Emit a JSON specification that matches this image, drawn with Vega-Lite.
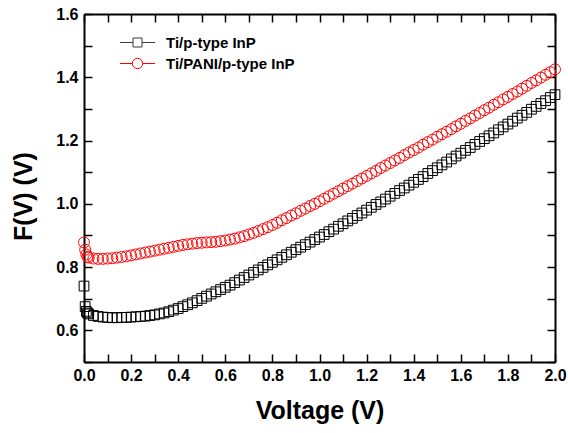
{
  "$schema": "https://vega.github.io/schema/vega-lite/v6.json",
  "width": 471,
  "height": 348,
  "autosize": "none",
  "padding": {"left": 84, "top": 14, "right": 13, "bottom": 71},
  "background": "white",
  "config": {"view": {"stroke": null}, "font": "Liberation Sans"},
  "data": {"values": [
    {"V":0,"Ti/p-type InP":0.74,"Ti/PANI/p-type InP":0.878},
    {"V":0.005,"Ti/p-type InP":0.675,"Ti/PANI/p-type InP":0.855},
    {"V":0.01,"Ti/p-type InP":0.66,"Ti/PANI/p-type InP":0.84},
    {"V":0.015,"Ti/p-type InP":0.655,"Ti/PANI/p-type InP":0.833},
    {"V":0.02,"Ti/p-type InP":0.652,"Ti/PANI/p-type InP":0.83},
    {"V":0.04,"Ti/p-type InP":0.647,"Ti/PANI/p-type InP":0.827},
    {"V":0.06,"Ti/p-type InP":0.644,"Ti/PANI/p-type InP":0.826},
    {"V":0.08,"Ti/p-type InP":0.642,"Ti/PANI/p-type InP":0.826},
    {"V":0.1,"Ti/p-type InP":0.641,"Ti/PANI/p-type InP":0.827},
    {"V":0.12,"Ti/p-type InP":0.64,"Ti/PANI/p-type InP":0.828},
    {"V":0.14,"Ti/p-type InP":0.64,"Ti/PANI/p-type InP":0.83},
    {"V":0.16,"Ti/p-type InP":0.641,"Ti/PANI/p-type InP":0.832},
    {"V":0.18,"Ti/p-type InP":0.641,"Ti/PANI/p-type InP":0.834},
    {"V":0.2,"Ti/p-type InP":0.642,"Ti/PANI/p-type InP":0.837},
    {"V":0.22,"Ti/p-type InP":0.643,"Ti/PANI/p-type InP":0.84},
    {"V":0.24,"Ti/p-type InP":0.644,"Ti/PANI/p-type InP":0.843},
    {"V":0.26,"Ti/p-type InP":0.645,"Ti/PANI/p-type InP":0.846},
    {"V":0.28,"Ti/p-type InP":0.647,"Ti/PANI/p-type InP":0.849},
    {"V":0.3,"Ti/p-type InP":0.649,"Ti/PANI/p-type InP":0.852},
    {"V":0.32,"Ti/p-type InP":0.652,"Ti/PANI/p-type InP":0.855},
    {"V":0.34,"Ti/p-type InP":0.655,"Ti/PANI/p-type InP":0.858},
    {"V":0.36,"Ti/p-type InP":0.659,"Ti/PANI/p-type InP":0.861},
    {"V":0.38,"Ti/p-type InP":0.664,"Ti/PANI/p-type InP":0.864},
    {"V":0.4,"Ti/p-type InP":0.669,"Ti/PANI/p-type InP":0.867},
    {"V":0.42,"Ti/p-type InP":0.675,"Ti/PANI/p-type InP":0.87},
    {"V":0.44,"Ti/p-type InP":0.681,"Ti/PANI/p-type InP":0.872},
    {"V":0.46,"Ti/p-type InP":0.687,"Ti/PANI/p-type InP":0.874},
    {"V":0.48,"Ti/p-type InP":0.694,"Ti/PANI/p-type InP":0.876},
    {"V":0.5,"Ti/p-type InP":0.701,"Ti/PANI/p-type InP":0.877},
    {"V":0.52,"Ti/p-type InP":0.708,"Ti/PANI/p-type InP":0.878},
    {"V":0.54,"Ti/p-type InP":0.715,"Ti/PANI/p-type InP":0.879},
    {"V":0.56,"Ti/p-type InP":0.722,"Ti/PANI/p-type InP":0.88},
    {"V":0.58,"Ti/p-type InP":0.729,"Ti/PANI/p-type InP":0.882},
    {"V":0.6,"Ti/p-type InP":0.736,"Ti/PANI/p-type InP":0.884},
    {"V":0.62,"Ti/p-type InP":0.743,"Ti/PANI/p-type InP":0.887},
    {"V":0.64,"Ti/p-type InP":0.751,"Ti/PANI/p-type InP":0.89},
    {"V":0.66,"Ti/p-type InP":0.759,"Ti/PANI/p-type InP":0.894},
    {"V":0.68,"Ti/p-type InP":0.767,"Ti/PANI/p-type InP":0.898},
    {"V":0.7,"Ti/p-type InP":0.775,"Ti/PANI/p-type InP":0.903},
    {"V":0.72,"Ti/p-type InP":0.783,"Ti/PANI/p-type InP":0.908},
    {"V":0.74,"Ti/p-type InP":0.791,"Ti/PANI/p-type InP":0.914},
    {"V":0.76,"Ti/p-type InP":0.799,"Ti/PANI/p-type InP":0.92},
    {"V":0.78,"Ti/p-type InP":0.807,"Ti/PANI/p-type InP":0.926},
    {"V":0.8,"Ti/p-type InP":0.815,"Ti/PANI/p-type InP":0.933},
    {"V":0.82,"Ti/p-type InP":0.823,"Ti/PANI/p-type InP":0.94},
    {"V":0.84,"Ti/p-type InP":0.831,"Ti/PANI/p-type InP":0.948},
    {"V":0.86,"Ti/p-type InP":0.839,"Ti/PANI/p-type InP":0.955},
    {"V":0.88,"Ti/p-type InP":0.847,"Ti/PANI/p-type InP":0.963},
    {"V":0.9,"Ti/p-type InP":0.855,"Ti/PANI/p-type InP":0.97},
    {"V":0.92,"Ti/p-type InP":0.863,"Ti/PANI/p-type InP":0.978},
    {"V":0.94,"Ti/p-type InP":0.871,"Ti/PANI/p-type InP":0.985},
    {"V":0.96,"Ti/p-type InP":0.879,"Ti/PANI/p-type InP":0.993},
    {"V":0.98,"Ti/p-type InP":0.887,"Ti/PANI/p-type InP":1.0},
    {"V":1.0,"Ti/p-type InP":0.895,"Ti/PANI/p-type InP":1.008},
    {"V":1.02,"Ti/p-type InP":0.903,"Ti/PANI/p-type InP":1.016},
    {"V":1.04,"Ti/p-type InP":0.912,"Ti/PANI/p-type InP":1.024},
    {"V":1.06,"Ti/p-type InP":0.92,"Ti/PANI/p-type InP":1.032},
    {"V":1.08,"Ti/p-type InP":0.929,"Ti/PANI/p-type InP":1.04},
    {"V":1.1,"Ti/p-type InP":0.937,"Ti/PANI/p-type InP":1.048},
    {"V":1.12,"Ti/p-type InP":0.946,"Ti/PANI/p-type InP":1.056},
    {"V":1.14,"Ti/p-type InP":0.954,"Ti/PANI/p-type InP":1.064},
    {"V":1.16,"Ti/p-type InP":0.963,"Ti/PANI/p-type InP":1.072},
    {"V":1.18,"Ti/p-type InP":0.971,"Ti/PANI/p-type InP":1.08},
    {"V":1.2,"Ti/p-type InP":0.98,"Ti/PANI/p-type InP":1.088},
    {"V":1.22,"Ti/p-type InP":0.989,"Ti/PANI/p-type InP":1.096},
    {"V":1.24,"Ti/p-type InP":0.998,"Ti/PANI/p-type InP":1.104},
    {"V":1.26,"Ti/p-type InP":1.006,"Ti/PANI/p-type InP":1.113},
    {"V":1.28,"Ti/p-type InP":1.015,"Ti/PANI/p-type InP":1.121},
    {"V":1.3,"Ti/p-type InP":1.024,"Ti/PANI/p-type InP":1.129},
    {"V":1.32,"Ti/p-type InP":1.033,"Ti/PANI/p-type InP":1.137},
    {"V":1.34,"Ti/p-type InP":1.042,"Ti/PANI/p-type InP":1.145},
    {"V":1.36,"Ti/p-type InP":1.05,"Ti/PANI/p-type InP":1.154},
    {"V":1.38,"Ti/p-type InP":1.059,"Ti/PANI/p-type InP":1.162},
    {"V":1.4,"Ti/p-type InP":1.068,"Ti/PANI/p-type InP":1.17},
    {"V":1.42,"Ti/p-type InP":1.077,"Ti/PANI/p-type InP":1.178},
    {"V":1.44,"Ti/p-type InP":1.086,"Ti/PANI/p-type InP":1.187},
    {"V":1.46,"Ti/p-type InP":1.096,"Ti/PANI/p-type InP":1.195},
    {"V":1.48,"Ti/p-type InP":1.105,"Ti/PANI/p-type InP":1.203},
    {"V":1.5,"Ti/p-type InP":1.114,"Ti/PANI/p-type InP":1.212},
    {"V":1.52,"Ti/p-type InP":1.123,"Ti/PANI/p-type InP":1.22},
    {"V":1.54,"Ti/p-type InP":1.132,"Ti/PANI/p-type InP":1.228},
    {"V":1.56,"Ti/p-type InP":1.142,"Ti/PANI/p-type InP":1.236},
    {"V":1.58,"Ti/p-type InP":1.151,"Ti/PANI/p-type InP":1.245},
    {"V":1.6,"Ti/p-type InP":1.16,"Ti/PANI/p-type InP":1.253},
    {"V":1.62,"Ti/p-type InP":1.169,"Ti/PANI/p-type InP":1.262},
    {"V":1.64,"Ti/p-type InP":1.178,"Ti/PANI/p-type InP":1.27},
    {"V":1.66,"Ti/p-type InP":1.188,"Ti/PANI/p-type InP":1.279},
    {"V":1.68,"Ti/p-type InP":1.197,"Ti/PANI/p-type InP":1.287},
    {"V":1.7,"Ti/p-type InP":1.206,"Ti/PANI/p-type InP":1.296},
    {"V":1.72,"Ti/p-type InP":1.215,"Ti/PANI/p-type InP":1.304},
    {"V":1.74,"Ti/p-type InP":1.224,"Ti/PANI/p-type InP":1.313},
    {"V":1.76,"Ti/p-type InP":1.234,"Ti/PANI/p-type InP":1.321},
    {"V":1.78,"Ti/p-type InP":1.243,"Ti/PANI/p-type InP":1.33},
    {"V":1.8,"Ti/p-type InP":1.252,"Ti/PANI/p-type InP":1.338},
    {"V":1.82,"Ti/p-type InP":1.261,"Ti/PANI/p-type InP":1.347},
    {"V":1.84,"Ti/p-type InP":1.271,"Ti/PANI/p-type InP":1.355},
    {"V":1.86,"Ti/p-type InP":1.28,"Ti/PANI/p-type InP":1.364},
    {"V":1.88,"Ti/p-type InP":1.289,"Ti/PANI/p-type InP":1.373},
    {"V":1.9,"Ti/p-type InP":1.299,"Ti/PANI/p-type InP":1.382},
    {"V":1.92,"Ti/p-type InP":1.308,"Ti/PANI/p-type InP":1.39},
    {"V":1.94,"Ti/p-type InP":1.317,"Ti/PANI/p-type InP":1.399},
    {"V":1.96,"Ti/p-type InP":1.326,"Ti/PANI/p-type InP":1.408},
    {"V":1.98,"Ti/p-type InP":1.336,"Ti/PANI/p-type InP":1.416},
    {"V":2.0,"Ti/p-type InP":1.345,"Ti/PANI/p-type InP":1.425}
  ]},
  "transform": [{"fold": ["Ti/p-type InP", "Ti/PANI/p-type InP"], "as": ["series", "F"]}],
  "layer": [
    {
      "transform": [{"filter": "datum.series === 'Ti/p-type InP'"}],
      "mark": {"type": "point", "filled": false, "strokeWidth": 1, "shape": "square", "color": "#000000", "size": 95, "opacity": 1},
      "encoding": {
        "x": {
          "field": "V", "type": "quantitative",
          "scale": {"domain": [0, 2], "nice": false},
          "axis": {
            "orient": "bottom",
            "values": [0,0.1,0.2,0.3,0.4,0.5,0.6,0.7,0.8,0.9,1,1.1,1.2,1.3,1.4,1.5,1.6,1.7,1.8,1.9,2],
            "labelExpr": "round(datum.value*10) % 2 === 0 ? format(datum.value, '.1f') : ''",
            "tickSize": -8, "tickWidth": 1.5, "tickColor": "black",
            "domainColor": "black", "domainWidth": 2,
            "labelFont": "Liberation Sans", "labelFontWeight": "bold", "labelFontSize": 16,
            "labelColor": "black", "labelPadding": 13, "labelFlush": false, "labelOverlap": false,
            "grid": false,
            "title": "Voltage (V)", "titleFont": "Liberation Sans", "titleFontSize": 25,
            "titleFontWeight": "bold", "titleColor": "black", "titleY": 56, "titleBaseline": "alphabetic"
          }
        },
        "y": {
          "field": "F", "type": "quantitative",
          "scale": {"domain": [0.5, 1.6], "nice": false},
          "axis": {
            "orient": "left",
            "values": [0.5,0.6,0.7,0.8,0.9,1,1.1,1.2,1.3,1.4,1.5,1.6],
            "labelExpr": "round(datum.value*10) % 2 === 0 ? format(datum.value, '.1f') : ''",
            "tickSize": -8, "tickWidth": 1.5, "tickColor": "black",
            "domainColor": "black", "domainWidth": 2,
            "labelFont": "Liberation Sans", "labelFontWeight": "bold", "labelFontSize": 16,
            "labelColor": "black", "labelPadding": 14, "labelFlush": false, "labelOverlap": false,
            "grid": false,
            "title": "F(V) (V)", "titleFont": "Liberation Sans", "titleFontSize": 25,
            "titleFontWeight": "bold", "titleColor": "black", "titleX": -53, "titleY": 182,
            "titleBaseline": "alphabetic"
          }
        }
      }
    },
    {
      "transform": [{"filter": "datum.series === 'Ti/PANI/p-type InP'"}],
      "mark": {"type": "point", "filled": false, "strokeWidth": 1, "shape": "circle", "color": "#ff0000", "size": 120, "opacity": 1},
      "encoding": {
        "x": {"field": "V", "type": "quantitative", "axis": null},
        "y": {"field": "F", "type": "quantitative", "axis": null}
      }
    },
    {
      "mark": {"type": "point", "opacity": 0, "filled": false},
      "encoding": {
        "x": {
          "field": "V", "type": "quantitative",
          "axis": {
            "orient": "top",
            "values": [0,0.1,0.2,0.3,0.4,0.5,0.6,0.7,0.8,0.9,1,1.1,1.2,1.3,1.4,1.5,1.6,1.7,1.8,1.9,2],
            "labels": false, "tickSize": -8, "tickWidth": 1.5, "tickColor": "black",
            "domainColor": "black", "domainWidth": 2, "grid": false, "title": null
          }
        },
        "y": {
          "field": "F", "type": "quantitative",
          "axis": {
            "orient": "right",
            "values": [0.5,0.6,0.7,0.8,0.9,1,1.1,1.2,1.3,1.4,1.5,1.6],
            "labels": false, "tickSize": -8, "tickWidth": 1.5, "tickColor": "black",
            "domainColor": "black", "domainWidth": 2, "grid": false, "title": null
          }
        },
        "color": {
          "field": "series", "type": "nominal",
          "scale": {"domain": ["Ti/p-type InP", "Ti/PANI/p-type InP"], "range": ["#3a3a3a", "#ff0000"]},
          "legend": {
            "title": null, "orient": "none", "legendX": 46, "legendY": 21,
            "padding": 0, "symbolSize": 81, "symbolStrokeWidth": 1, "symbolOpacity": 1,
            "labelOffset": 21, "rowPadding": 5,
            "labelFont": "Liberation Sans", "labelFontWeight": "bold", "labelFontSize": 15, "labelColor": "black",
            "encoding": {
              "symbols": {
                "shape": {
                  "condition": {"test": "datum.value === 'Ti/p-type InP'", "value": "M-3.9,0H-1M1,0H3.9M-1,-1H1V1H-1Z"},
                  "value": "M-3.9,0H-1.15M1.15,0H3.9M-1.15,0A1.15,1.15,0,1,1,1.15,0A1.15,1.15,0,1,1,-1.15,0Z"
                }
              }
            }
          }
        }
      }
    }
  ],
  "resolve": {"axis": {"x": "independent", "y": "independent"}}
}
